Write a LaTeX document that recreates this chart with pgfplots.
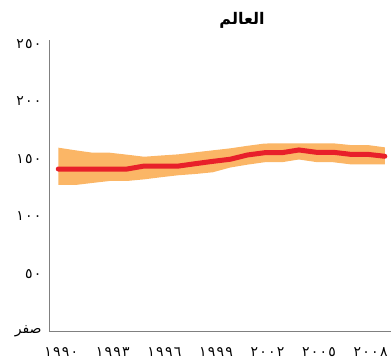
\documentclass[border=0pt]{standalone}
\usepackage{pgfplots}
\pgfplotsset{compat=1.18}
\usepgfplotslibrary{fillbetween}
\usepackage{fontspec}
\TeXXeTstate=1
\setmainfont{DejaVu Sans}
\newfontfamily\arabicfont[Script=Arabic]{DejaVu Sans}
\newfontfamily\digitfont[Script=Arabic, LetterSpace=9]{DejaVu Sans}
\definecolor{bandc}{RGB}{251,182,102}
\definecolor{linec}{RGB}{232,32,42}
\definecolor{axc}{RGB}{128,128,128}
\pgfplotstableread{
year mid top bot
1990 141.1 159.7 127.2
1991 141.1 157.4 127.2
1992 141.1 155.3 129.0
1993 141.1 155.3 130.7
1994 141.1 153.6 130.7
1995 143.7 151.8 132.1
1996 143.7 152.9 134.0
1997 143.7 153.9 135.7
1998 145.8 155.7 136.8
1999 147.8 157.4 138.3
2000 149.6 159.1 142.4
2001 153.3 161.3 144.9
2002 155.3 163.3 147.0
2003 155.3 163.5 147.0
2004 157.7 163.5 149.4
2005 155.7 163.5 147.2
2006 155.7 163.5 147.0
2007 153.9 162.0 145.2
2008 153.9 162.0 145.2
2009 152.2 160.0 145.2
}\datatable
\begin{document}
\begin{tikzpicture}
\begin{axis}[
  at={(0,0)}, anchor=south west,
  scale only axis,
  width=342pt, height=291pt,
  xmin=1989.46, xmax=2009.36,
  ymin=0, ymax=253.5,
  axis lines=left,
  axis line style={draw=axc, line width=0.8pt, -},
  major tick length=0pt,
  xtick={1990,1993,1996,1999,2002,2005,2008},
  xticklabels={١٩٩٠,١٩٩٣,١٩٩٦,١٩٩٩,٢٠٠٢,٢٠٠٥,٢٠٠٨},
  ytick={0,50,100,150,200,250},
  yticklabels={{\raisebox{-5pt}{\arabicfont\beginR صفر\endR}},٥٠,١٠٠,١٥٠,٢٠٠,٢٥٠},
  tick label style={font=\digitfont\fontsize{14}{16}\selectfont, text=black},
  xticklabel style={yshift=-13pt, xshift=3pt},
  yticklabel style={xshift=-4pt},
  title={\beginR العالم\endR},
  title style={font=\arabicfont\bfseries\fontsize{16}{18}\selectfont, xshift=22pt, yshift=2pt},
]
\addplot[name path=top, draw=none] table[x=year, y=top] {\datatable};
\addplot[name path=bot, draw=none] table[x=year, y=bot] {\datatable};
\addplot[fill=bandc, draw=none] fill between[of=top and bot];
\addplot[linec, line width=5pt, line cap=round, line join=round] table[x=year, y=mid] {\datatable};
\end{axis}
\pgfresetboundingbox
\path[use as bounding box] (-49pt,-30pt) rectangle (342pt,331pt);
\end{tikzpicture}
\end{document}
